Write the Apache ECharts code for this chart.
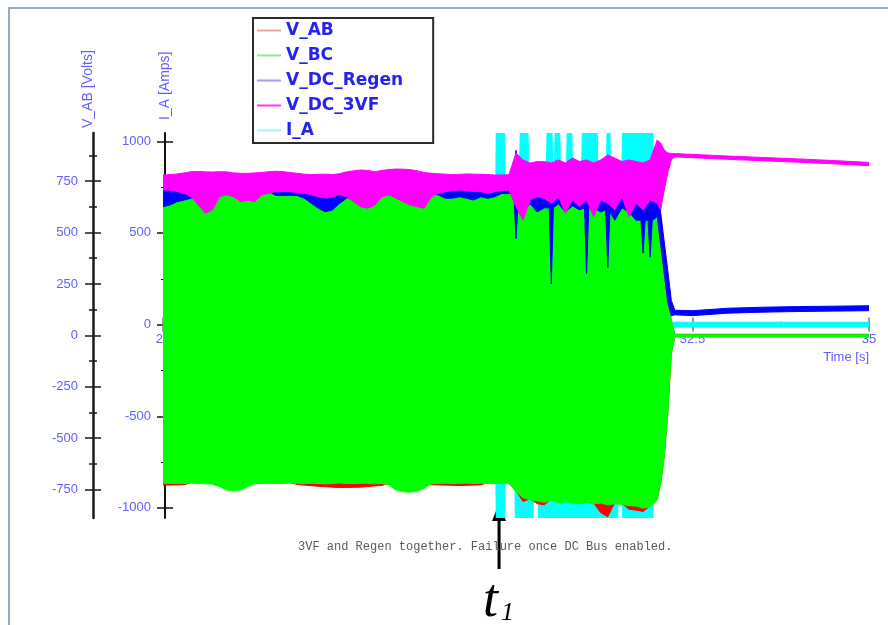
<!DOCTYPE html>
<html>
<head>
<meta charset="utf-8">
<script src="https://cdn.jsdelivr.net/npm/echarts@6/dist/echarts.min.js"></script>
<style>
  html, body { margin: 0; padding: 0; background: #ffffff; }
  #chart { width: 888px; height: 625px; }
</style>
</head>
<body>
<div id="chart"></div>
<script>
// Sample times [s] for the AC voltage and DC 3VF envelopes
const timeMain = [
  25.0, 25.1, 25.2, 25.3, 25.4, 25.5, 25.6, 25.7, 25.8, 25.9,
  26.0, 26.1, 26.2, 26.3, 26.4, 26.5, 26.6, 26.7, 26.8, 26.9,
  27.0, 27.1, 27.2, 27.3, 27.4, 27.5, 27.6, 27.7, 27.8, 27.9,
  28.0, 28.1, 28.2, 28.3, 28.4, 28.5, 28.6, 28.7, 28.8, 28.9,
  29.0, 29.1, 29.2, 29.3, 29.4, 29.5, 29.6, 29.7, 29.8, 29.9,
  30.0, 30.1, 30.2, 30.3, 30.4, 30.5, 30.6, 30.7, 30.8, 30.9,
  31.0, 31.1, 31.2, 31.3, 31.4, 31.5, 31.6, 31.7, 31.8, 31.9,
  32.0, 32.05, 32.1, 32.15, 32.2, 32.25, 32.5, 33.0, 33.5, 34.0, 34.5, 35.0
];

// V_AB [V] – lower / upper envelope
const vabLo = [
  -727, -728, -727, -726, -716, -716, -716, -716, -716, -716,
  -716, -716, -716, -716, -716, -716, -716, -716, -716, -725,
  -728, -731, -734, -736, -738, -740, -740, -739, -738, -735,
  -732, -730, -716, -716, -716, -716, -716, -716, -726, -727,
  -728, -729, -730, -729, -728, -727, -716, -716, -716, -716,
  -755, -808, -795, -818, -824, -795, -810, -803, -810, -815,
  -807, -815, -862, -882, -813, -817, -845, -850, -856, -830,
  -795, -715, -585, -375, -85, -6, -6, -6, -6, -6, -6, -6
];
const vabHi = [
  690, 690, 690, 690, 690, 690, 690, 690, 690, 690,
  690, 690, 690, 690, 690, 690, 690, 690, 690, 690,
  690, 690, 690, 690, 690, 690, 690, 690, 690, 690,
  690, 690, 690, 690, 690, 690, 690, 690, 690, 690,
  690, 690, 690, 690, 690, 690, 690, 690, 690, 690,
  690, 690, 690, 690, 690, 690, 690, 690, 690, 690,
  690, 690, 690, 690, 690, 690, 690, 690, 690, 690,
  520, 480, 380, 230, 60, 4, 4, 4, 4, 4, 4, 4
];

// V_BC [V]
const vbcLo = [
  -720, -719, -721, -720, -718, -720, -722, -724, -735, -752,
  -757, -752, -735, -722, -720, -719, -721, -720, -718, -720,
  -721, -719, -720, -722, -720, -718, -720, -721, -719, -720,
  -722, -720, -727, -752, -760, -763, -757, -743, -722, -720,
  -719, -721, -720, -718, -720, -719, -721, -720, -719, -720,
  -760, -790, -800, -805, -812, -800, -815, -808, -815, -820,
  -812, -820, -815, -825, -818, -822, -828, -830, -840, -835,
  -800, -720, -590, -380, -90, -8, -8, -8, -8, -8, -8, -8
];
const vbcHi = [
  700, 700, 700, 700, 700, 700, 700, 700, 700, 700,
  700, 700, 700, 700, 700, 700, 700, 700, 700, 700,
  700, 700, 700, 700, 700, 700, 700, 700, 700, 700,
  700, 700, 700, 700, 700, 700, 700, 700, 700, 700,
  700, 700, 700, 700, 700, 700, 700, 700, 700, 700,
  700, 700, 700, 700, 700, 700, 700, 700, 700, 700,
  700, 700, 700, 700, 700, 700, 700, 700, 700, 700,
  528, 490, 390, 240, 70, 6, 6, 6, 6, 6, 6, 6
];

// V_DC_Regen [V] – own time base so the narrow dips stay narrow
const regenTime = [
  25.0, 25.1, 25.2, 25.3, 25.4, 25.5, 25.6, 25.7, 25.8, 25.9,
  26.0, 26.1, 26.2, 26.3, 26.4, 26.5, 26.6, 26.7, 26.8, 26.9,
  27.0, 27.1, 27.2, 27.3, 27.4, 27.5, 27.6, 27.7, 27.8, 27.9,
  28.0, 28.1, 28.2, 28.3, 28.4, 28.5, 28.6, 28.7, 28.8, 28.9,
  29.0, 29.1, 29.2, 29.3, 29.4, 29.5, 29.6, 29.7, 29.8, 29.9,
  29.97, 30.0, 30.03, 30.1, 30.2, 30.3, 30.4, 30.47, 30.5, 30.53,
  30.6, 30.7, 30.8, 30.9, 30.97, 31.0, 31.03, 31.1, 31.2, 31.27,
  31.3, 31.33, 31.4, 31.5, 31.6, 31.7, 31.77, 31.8, 31.83, 31.87,
  31.9, 31.93, 32.0, 32.05, 32.1, 32.15, 32.2, 32.25,
  32.5, 33.0, 33.5, 34.0, 34.5, 35.0
];
const regenLo = [
  626, 634, 650, 658, 667, 680, 680, 670, 680, 700,
  700, 700, 700, 700, 700, 700, 680, 680, 680, 680,
  667, 642, 618, 601, 610, 642, 667, 674, 700, 700,
  700, 700, 683, 700, 700, 700, 700, 700, 691, 683,
  667, 667, 674, 667, 658, 674, 667, 674, 690, 690,
  690, 470, 640, 610, 640, 600, 620, 620, 250, 620,
  640, 600, 630, 610, 620, 300, 620, 620, 600, 610,
  330, 600, 560, 620, 600, 560, 560, 400, 560, 560,
  380, 560, 576, 439, 298, 159, 95, 100,
  96, 108, 113, 116, 118, 120
];
const regenHi = [
  745, 745, 745, 745, 745, 745, 745, 745, 745, 745,
  745, 745, 745, 745, 745, 745, 745, 745, 745, 745,
  745, 745, 745, 745, 745, 745, 745, 745, 745, 745,
  745, 745, 745, 745, 745, 745, 745, 745, 745, 745,
  745, 745, 745, 745, 745, 745, 745, 745, 745, 745,
  745, 900, 820, 820, 820, 820, 820, 820, 820, 820,
  820, 820, 820, 820, 820, 820, 820, 820, 820, 820,
  820, 820, 820, 820, 820, 820, 820, 820, 820, 820,
  820, 820, 732, 595, 454, 315, 170, 122,
  120, 132, 137, 140, 142, 144
];

// V_DC_3VF [V]
const vf3Lo = [
  707, 706, 699, 691, 674, 634, 594, 610, 674, 684,
  674, 650, 658, 650, 684, 691, 699, 699, 699, 694,
  691, 684, 674, 667, 674, 684, 674, 650, 626, 618,
  634, 674, 684, 667, 650, 634, 626, 618, 674, 691,
  699, 704, 707, 704, 699, 699, 691, 699, 705, 707,
  626, 560, 658, 674, 666, 642, 674, 594, 658, 626,
  658, 577, 658, 642, 610, 674, 577, 642, 610, 658,
  642, 610, 707, 790, 853, 868, 864, 856, 849, 842, 834, 825
];
const vf3Hi = [
  780, 782, 785, 790, 796, 797, 795, 794, 796, 795,
  790, 788, 788, 790, 792, 796, 798, 796, 792, 788,
  784, 782, 783, 784, 782, 786, 795, 800, 804, 802,
  796, 802, 806, 809, 808, 806, 800, 792, 788, 786,
  784, 782, 783, 785, 784, 783, 782, 780, 780, 781,
  887, 853, 838, 845, 845, 838, 853, 838, 862, 845,
  853, 838, 853, 877, 862, 845, 853, 845, 838, 853,
  950, 935, 901, 887, 884, 884, 880, 872, 865, 858, 850, 841
];

// I_A [A] – envelope with its own time base
const iaTime = [
  25.0, 29.71, 29.72, 29.84, 29.85, 29.98, 29.99, 30.05, 30.06, 30.17,
  30.18, 30.24, 30.25, 30.31, 30.32, 30.43, 30.44, 30.51, 30.52, 30.545,
  30.555, 30.62, 30.63, 30.715, 30.725, 30.79, 30.80, 30.93, 30.94, 31.15,
  31.16, 31.28, 31.29, 31.33, 31.34, 31.44, 31.45, 31.50, 31.51, 31.94,
  31.95, 32.0, 32.1, 32.2, 35.0
];
const iaLo = [
  -600, -600, -1060, -1060, -600, -600, -1060, -1060, -1060, -1060,
  -1060, -1060, -900, -900, -1060, -1060, -1060, -1060, -1060, -1060,
  -1060, -1060, -1060, -1060, -1060, -1060, -1060, -1060, -1060, -1060,
  -1060, -1060, -1060, -1060, -1060, -1060, -900, -900, -1060, -1060,
  -700, -600, -200, -13, -13
];
const iaHi = [
  600, 600, 1060, 1060, 600, 600, 850, 850, 1060, 1060,
  850, 850, 850, 850, 850, 850, 1060, 1060, 850, 850,
  1060, 1060, 850, 850, 1060, 1060, 850, 850, 1060, 1060,
  850, 850, 1060, 1060, 850, 850, 850, 850, 1060, 1060,
  700, 600, 200, 13, 13
];

// Tick positions
const voltMajor = [-750, -500, -250, 0, 250, 500, 750];
const voltMinor = [-625, -375, -125, 125, 375, 625, 875];
const ampMajor = [-1000, -500, 0, 500, 1000];
const ampMinor = [-750, -250, 250, 750];

const t1Time = 29.76;

const LABEL_COLOR = '#5f5fff';
const LABEL_FONT = 'Liberation Sans';

// A filled band between the lower and upper envelope of one signal
function bandSeries(name, color, t, lo, hi, yAxisIndex) {
  return {
    type: 'custom',
    name: name,
    xAxisIndex: 0,
    yAxisIndex: yAxisIndex,
    clip: true,
    silent: true,
    itemStyle: { color: color },
    data: t.map((v, i) => [v, lo[i], hi[i]]),
    encode: { x: 0, y: [1, 2] },
    renderItem: function (params, api) {
      if (params.dataIndex !== 0) return null;
      const upper = t.map((v, i) => api.coord([v, hi[i]]));
      const lower = t.map((v, i) => api.coord([v, lo[i]])).reverse();
      return {
        type: 'polygon',
        shape: { points: upper.concat(lower) },
        style: { fill: color, stroke: color, lineWidth: 1 }
      };
    }
  };
}

function sideAxis(base, extra) {
  return Object.assign({
    type: 'value',
    position: 'left',
    splitLine: { show: false },
    axisLine: { show: false, onZero: false },
    axisLabel: { show: false },
    axisTick: { show: false }
  }, base, extra);
}

const plainNumber = (v) => String(v);
const voltBase = { offset: 70, min: -888, max: 984 };
const ampBase = { offset: -2, min: -1055, max: 1045 };
// the time axis is drawn on the current zero line (193.5 px above the plot bottom)
const timeAxisBase = { type: 'value', position: 'bottom', offset: -193.5, min: 25, max: 35, interval: 2.5, splitLine: { show: false } };

const chart = echarts.init(document.getElementById('chart'));

const option = {
  animation: false,
  backgroundColor: '#ffffff',
  title: {
    text: '3VF and Regen together. Failure once DC Bus enabled.',
    left: 298,
    top: 541,
    padding: 0,
    textStyle: { fontFamily: 'Liberation Mono', fontSize: 12, fontWeight: 'normal', color: '#5a5a5a' }
  },
  legend: {
    orient: 'vertical',
    left: 253,
    top: 18,
    icon: 'rect',
    itemWidth: 24,
    itemHeight: 2,
    itemGap: 8,
    padding: [4, 30, 4, 4],
    borderColor: '#2b2b2b',
    borderWidth: 2,
    backgroundColor: '#ffffff',
    selectedMode: false,
    textStyle: { color: '#2424ee', fontSize: 17, fontFamily: 'DejaVu Sans', fontWeight: 'bold' },
    data: [
      { name: 'V_AB', itemStyle: { color: '#f4a0a0' } },
      { name: 'V_BC', itemStyle: { color: '#8ee88e' } },
      { name: 'V_DC_Regen', itemStyle: { color: '#9e9ef2' } },
      { name: 'V_DC_3VF', itemStyle: { color: '#ff33ff' } },
      { name: 'I_A', itemStyle: { color: '#a6f6f6' } }
    ]
  },
  grid: { left: 163, right: 19, top: 133, bottom: 107, containLabel: false },
  xAxis: [
    Object.assign({}, timeAxisBase, {
      axisLine: { onZero: false, lineStyle: { color: '#8a8a8a', width: 1 } },
      axisTick: { length: 7, lineStyle: { color: '#777777', width: 1.5 } },
      minorTick: { show: true, splitNumber: 2, length: 3, lineStyle: { color: '#777777', width: 1 } },
      axisLabel: { color: LABEL_COLOR, fontFamily: LABEL_FONT, fontSize: 13, margin: 8, showMinLabel: true, showMaxLabel: true },
      name: 'Time [s]',
      nameLocation: 'end',
      nameGap: 0,
      nameTextStyle: { color: LABEL_COLOR, fontFamily: LABEL_FONT, fontSize: 13, align: 'right', verticalAlign: 'top', padding: [26, 0, 0, 0] }
    }),
    Object.assign({}, timeAxisBase, {
      axisLine: { show: false, onZero: false },
      axisTick: { inside: true, length: 7, lineStyle: { color: '#777777', width: 1.5 } },
      minorTick: { show: true, splitNumber: 2, length: 3, lineStyle: { color: '#777777', width: 1 } },
      axisLabel: { show: false }
    })
  ],
  yAxis: [
    sideAxis(voltBase, {
      axisLine: { show: true, onZero: false, lineStyle: { color: '#1a1a1a', width: 2.5 } },
      axisTick: { show: true, customValues: voltMajor, length: 8, lineStyle: { color: '#1a1a1a', width: 1.5 } },
      axisLabel: { show: true, customValues: voltMajor, formatter: plainNumber, margin: 15, color: LABEL_COLOR, fontFamily: LABEL_FONT, fontSize: 13 },
      name: 'V_AB [Volts]',
      nameLocation: 'end',
      nameRotate: 90,
      nameGap: 5,
      nameTextStyle: { color: LABEL_COLOR, fontFamily: LABEL_FONT, fontSize: 14, verticalAlign: 'bottom', lineHeight: 10 }
    }),
    sideAxis(voltBase, { axisTick: { show: true, inside: true, customValues: voltMajor, length: 8, lineStyle: { color: '#1a1a1a', width: 1.5 } } }),
    sideAxis(voltBase, { axisTick: { show: true, customValues: voltMinor, length: 4, lineStyle: { color: '#1a1a1a', width: 1.5 } } }),
    sideAxis(voltBase, { axisTick: { show: true, inside: true, customValues: voltMinor, length: 4, lineStyle: { color: '#1a1a1a', width: 1.5 } } }),
    sideAxis(ampBase, {
      axisLine: { show: true, onZero: false, lineStyle: { color: '#111111', width: 2 } },
      axisTick: { show: true, customValues: ampMajor, length: 8, lineStyle: { color: '#111111', width: 1.5 } },
      axisLabel: { show: true, customValues: ampMajor, formatter: plainNumber, margin: 14, color: LABEL_COLOR, fontFamily: LABEL_FONT, fontSize: 13 },
      name: 'I_A [Amps]',
      nameLocation: 'end',
      nameRotate: 90,
      nameGap: 13,
      nameTextStyle: { color: LABEL_COLOR, fontFamily: LABEL_FONT, fontSize: 14 }
    }),
    sideAxis(ampBase, { axisTick: { show: true, inside: true, customValues: ampMajor, length: 8, lineStyle: { color: '#111111', width: 1.5 } } }),
    sideAxis(ampBase, { axisTick: { show: true, customValues: ampMinor, length: 4, lineStyle: { color: '#111111', width: 1 } } }),
    sideAxis(ampBase, { axisTick: { show: true, inside: true, customValues: ampMinor, length: 4, lineStyle: { color: '#111111', width: 1 } } })
  ],
  series: [
    bandSeries('I_A', '#00ffff', iaTime, iaLo, iaHi, 4),
    bandSeries('V_AB', '#ff0000', timeMain, vabLo, vabHi, 0),
    bandSeries('V_BC', '#00ff00', timeMain, vbcLo, vbcHi, 0),
    bandSeries('V_DC_Regen', '#0000ff', regenTime, regenLo, regenHi, 0),
    bandSeries('V_DC_3VF', '#ff00ff', timeMain, vf3Lo, vf3Hi, 0)
  ]
};

chart.setOption(option);

// Frame, event marker and its label
const markX = chart.convertToPixel({ xAxisIndex: 0 }, t1Time);
chart.setOption({
  graphic: [
    { type: 'rect', silent: true, z: -10, shape: { x: 9, y: 8, width: 900, height: 700 },
      style: { fill: 'none', stroke: '#93a9c9', lineWidth: 2 } },
    { type: 'line', silent: true, shape: { x1: markX, y1: 519, x2: markX, y2: 569 },
      style: { stroke: '#000000', lineWidth: 3 } },
    { type: 'polygon', silent: true, shape: { points: [[markX, 503], [markX - 7, 521], [markX + 7, 521]] },
      style: { fill: '#000000' } },
    { type: 'text', silent: true, x: markX - 16, y: 575,
      style: { text: 't', font: 'italic 54px "Liberation Serif"', fill: '#000000' } },
    { type: 'text', silent: true, x: markX + 2, y: 600,
      style: { text: '1', font: 'italic 26px "Liberation Serif"', fill: '#000000' } }
  ]
});
</script>
</body>
</html>
